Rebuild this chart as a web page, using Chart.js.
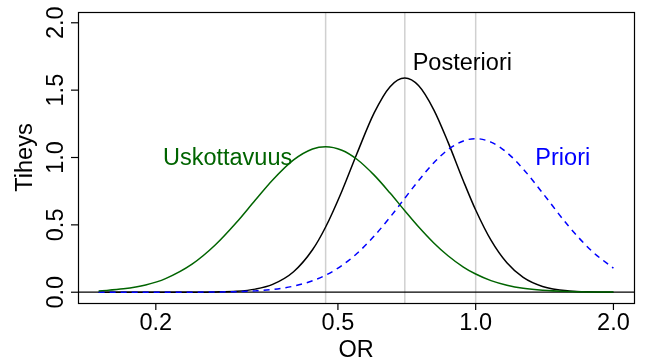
<!DOCTYPE html>
<html>
<head>
<meta charset="utf-8">
<script src="https://cdn.jsdelivr.net/npm/chart.js@4.4.1/dist/chart.umd.min.js"></script>
<style>
  html, body { margin: 0; padding: 0; background: #fff; }
</style>
</head>
<body>
<canvas id="densityChart" width="647" height="361"></canvas>
<script>
// OR-arvot (log-asteikko) ja tiheydet luettuna kuvasta
const orValues = [0.15, 0.17, 0.19, 0.21, 0.24, 0.27, 0.30, 0.33, 0.36, 0.40, 0.44, 0.47, 0.51, 0.55,
                  0.60, 0.65, 0.70, 0.75, 0.81, 0.87, 0.94, 1.00, 1.08, 1.17, 1.27, 1.40, 1.60, 1.80, 2.00];
const prioriValues = [0.000, 0.000, 0.000, 0.000, 0.000, 0.002, 0.004, 0.010, 0.020, 0.045, 0.085, 0.126, 0.198, 0.287,
                      0.417, 0.557, 0.698, 0.828, 0.961, 1.058, 1.123, 1.140, 1.114, 1.037, 0.915, 0.737, 0.486, 0.301, 0.179];
const uskottavuusValues = [0.009, 0.025, 0.054, 0.101, 0.208, 0.352, 0.517, 0.684, 0.833, 0.982, 1.063, 1.080, 1.054, 0.987,
                           0.869, 0.736, 0.605, 0.486, 0.366, 0.271, 0.187, 0.135, 0.086, 0.052, 0.029, 0.014, 0.005, 0.002, 0.001];
const posterioriValues = [0.000, 0.000, 0.000, 0.000, 0.000, 0.002, 0.007, 0.023, 0.058, 0.152, 0.315, 0.484, 0.750, 1.028,
                          1.331, 1.526, 1.590, 1.534, 1.354, 1.114, 0.826, 0.610, 0.386, 0.218, 0.110, 0.043, 0.009, 0.002, 0.000];

const xTicks = [0.2, 0.5, 1.0, 2.0];
const yTicks = [0.0, 0.5, 1.0, 1.5, 2.0];
const refLinesX = [0.47, 0.70, 1.0];   // pystyviivat
const refLineY = 0;                     // vaakaviiva

// tekstien paikat datakoordinaateissa
const curveLabels = [
  { text: 'Uskottavuus', x: 0.287, y: 0.995, color: '#006400' },
  { text: 'Posteriori', x: 0.935, y: 1.70, color: '#000000' },
  { text: 'Priori', x: 1.55, y: 0.995, color: '#0000ff' }
];

const FONT = '23.5px "Liberation Sans", Arial, sans-serif';

function toPoints(ys) {
  return orValues.map((x, i) => ({ x: x, y: ys[i] }));
}

// R-tyylinen kehys, tikit, tekstit
const rStyle = {
  id: 'rStyle',
  beforeDatasetsDraw(chart) {
    const { ctx, chartArea: a, scales: { x, y } } = chart;
    ctx.save();
    ctx.beginPath();
    ctx.rect(a.left, a.top, a.right - a.left, a.bottom - a.top);
    ctx.clip();
    ctx.strokeStyle = '#d0d0d0';
    ctx.lineWidth = 1.5;
    refLinesX.forEach(v => {
      const px = x.getPixelForValue(v);
      ctx.beginPath();
      ctx.moveTo(px, a.top);
      ctx.lineTo(px, a.bottom);
      ctx.stroke();
    });
    ctx.strokeStyle = '#000';
    ctx.lineWidth = 1.2;
    const py = y.getPixelForValue(refLineY);
    ctx.beginPath();
    ctx.moveTo(a.left, py);
    ctx.lineTo(a.right, py);
    ctx.stroke();
    ctx.restore();
  },
  afterDraw(chart) {
    const { ctx, chartArea: a, scales: { x, y } } = chart;
    ctx.save();
    ctx.strokeStyle = '#000';
    ctx.lineWidth = 1.2;
    ctx.strokeRect(Math.round(a.left) + 0.5, Math.round(a.top) + 0.5,
                   Math.round(a.right - a.left), Math.round(a.bottom - a.top));

    ctx.font = FONT;
    ctx.fillStyle = '#000';
    ctx.textAlign = 'center';
    ctx.textBaseline = 'alphabetic';

    // x-akseli
    xTicks.forEach(v => {
      const px = x.getPixelForValue(v);
      ctx.beginPath();
      ctx.moveTo(px, a.bottom);
      ctx.lineTo(px, a.bottom + 7);
      ctx.stroke();
      ctx.fillText(v.toFixed(1), px, a.bottom + 27);
    });
    ctx.fillText('OR', (a.left + a.right) / 2, a.bottom + 54);

    // y-akseli
    yTicks.forEach(v => {
      const py = y.getPixelForValue(v);
      ctx.beginPath();
      ctx.moveTo(a.left - 7, py);
      ctx.lineTo(a.left, py);
      ctx.stroke();
      ctx.save();
      ctx.translate(a.left - 15.5, py);
      ctx.rotate(-Math.PI / 2);
      ctx.fillText(v.toFixed(1), 0, 0);
      ctx.restore();
    });
    ctx.save();
    ctx.translate(a.left - 46, (a.top + a.bottom) / 2);
    ctx.rotate(-Math.PI / 2);
    ctx.fillText('Tiheys', 0, 0);
    ctx.restore();

    // käyrien nimet
    ctx.textBaseline = 'middle';
    curveLabels.forEach(l => {
      ctx.fillStyle = l.color;
      ctx.fillText(l.text, x.getPixelForValue(l.x), y.getPixelForValue(l.y));
    });
    ctx.restore();
  }
};

const ctx = document.getElementById('densityChart').getContext('2d');

const densityChart = new Chart(ctx, {
  type: 'line',
  data: {
    datasets: [
      {
        label: 'Uskottavuus',
        data: toPoints(uskottavuusValues),
        borderColor: '#006400',
        borderWidth: 1.5
      },
      {
        label: 'Priori',
        data: toPoints(prioriValues),
        borderColor: '#0000ff',
        borderWidth: 1.5,
        borderDash: [6, 5]
      },
      {
        label: 'Posteriori',
        data: toPoints(posterioriValues),
        borderColor: '#000000',
        borderWidth: 1.5
      }
    ]
  },
  options: {
    responsive: false,
    animation: false,
    events: [],
    elements: { point: { radius: 0 }, line: { cubicInterpolationMode: 'monotone', fill: false } },
    layout: { padding: { top: 12, right: 13, left: 0, bottom: 0 } },
    plugins: { legend: { display: false }, tooltip: { enabled: false } },
    scales: {
      x: {
        type: 'logarithmic',
        min: 0.1352,
        max: 2.218,
        grid: { display: false },
        border: { display: false },
        ticks: { display: false },
        afterBuildTicks: s => { s.ticks = xTicks.map(v => ({ value: v })); },
        afterFit: s => { s.height = 58; }
      },
      y: {
        type: 'linear',
        min: -0.08,
        max: 2.08,
        grid: { display: false },
        border: { display: false },
        ticks: { display: false },
        afterBuildTicks: s => { s.ticks = yTicks.map(v => ({ value: v })); },
        afterFit: s => { s.width = 78; }
      }
    }
  },
  plugins: [rStyle]
});
</script>
</body>
</html>
